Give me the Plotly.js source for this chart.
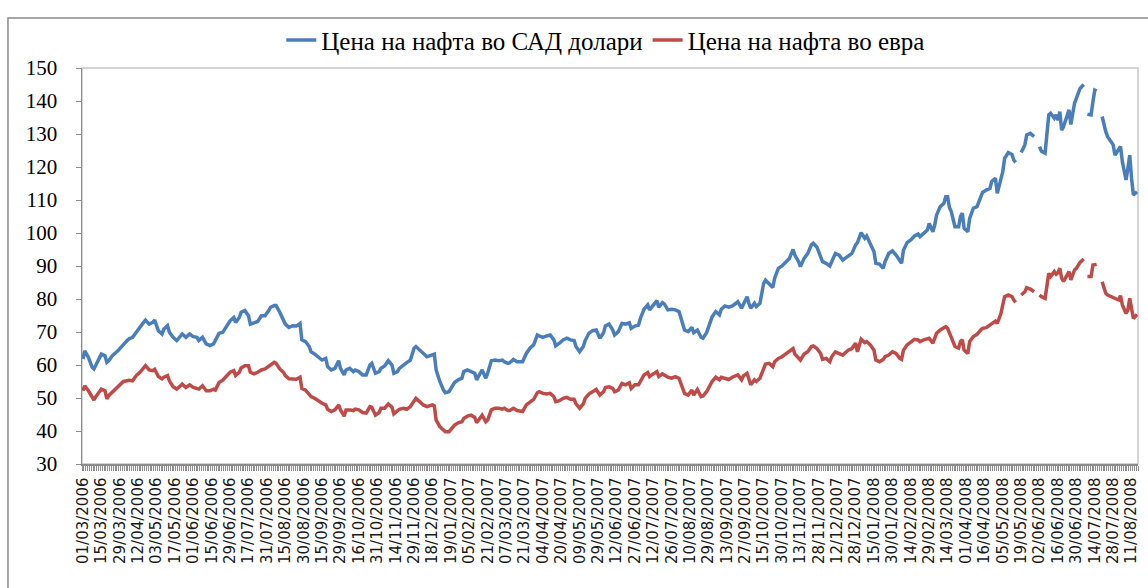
<!DOCTYPE html>
<html>
<head>
<meta charset="utf-8">
<script src="https://cdn.plot.ly/plotly-3.0.1.min.js"></script>
<style>
html,body{margin:0;padding:0;background:#ffffff;}
#chart{width:1148px;height:588px;}
</style>
</head>
<body>
<div id="chart"></div>
<script>
// Category labels shown on the x axis (every 10th trading day)
const tickLabels = ["01/03/2006","15/03/2006","29/03/2006","12/04/2006","03/05/2006","17/05/2006","01/06/2006","15/06/2006","29/06/2006","17/07/2006","31/07/2006","15/08/2006","30/08/2006","15/09/2006","29/09/2006","16/10/2006","31/10/2006","14/11/2006","29/11/2006","18/12/2006","19/01/2007","05/02/2007","21/02/2007","07/03/2007","21/03/2007","04/04/2007","20/04/2007","09/05/2007","29/05/2007","12/06/2007","27/06/2007","12/07/2007","26/07/2007","10/08/2007","29/08/2007","13/09/2007","27/09/2007","15/10/2007","30/10/2007","13/11/2007","28/11/2007","12/12/2007","28/12/2007","15/01/2008","30/01/2008","14/02/2008","29/02/2008","14/03/2008","01/04/2008","16/04/2008","05/05/2008","19/05/2008","02/06/2008","16/06/2008","30/06/2008","14/07/2008","28/07/2008","11/08/2008"];
const labelEvery = 10;
const categoryCount = 574;

// Trading-day index of each reading (0 = 01/03/2006)
const catIdx = [0,1,3,5,6,7,9,10,12,13,14,16,19,22,24,25,27,29,31,33,34,36,38,39,41,43,44,46,47,49,51,53,54,56,58,60,62,63,65,67,69,71,72,74,76,78,80,82,83,85,86,88,90,91,93,95,97,99,101,102,104,105,107,109,110,112,114,116,118,119,121,123,124,126,128,130,132,133,135,137,139,140,142,143,145,147,148,150,152,154,156,157,159,161,162,164,166,168,169,171,172,174,176,178,180,181,183,185,187,188,190,191,192,194,196,197,199,201,202,204,206,207,209,211,213,214,216,217,219,220,222,224,226,228,229,231,232,234,236,238,239,241,243,245,247,248,250,252,254,256,257,259,261,263,265,267,268,270,272,273,275,277,279,281,283,284,286,288,289,291,293,295,297,298,300,302,303,305,307,308,310,312,313,315,316,318,320,322,324,326,327,329,331,332,334,336,337,339,340,342,344,346,347,349,351,353,355,356,358,359,361,362,363,365,366,368,370,371,373,375,376,378,380,382,384,386,387,389,390,392,394,396,397,399,401,402,404,406,407,409,411,413,415,416,418,420,421,423,425,426,428,430,431,433,435,436,438,440,442,444,445,446,448,450,452,454,455,457,459,460,462,463,464,466,468,469,470,471,472,474,476,477,478,479,481,482,484,486,488,489,491,493,494,496,497,499,500,501,503,505,506,507,508,510,512,513,515,517,518,520,521,523,524,525,526,528,529,530,531,532,533,535,536,537,539,540,541,542,544,545,546,548,549,550,551,552,554,555,556,557,559,560,561,563,564,565,567,568,569,570,571,573];

// Oil price in US dollars
const usd = [61.8,64.3,62.3,59.3,58.8,59.8,62.3,63.3,62.8,60.8,61.3,62.8,64.3,66.4,67.4,67.9,68.4,69.9,71.2,72.9,73.6,72.4,72.9,73.6,70.4,69.4,70.9,71.9,69.9,68.4,67.4,68.9,69.4,68.4,69.4,68.6,68.4,67.4,68.4,66.4,65.9,66.4,67.4,69.6,69.9,71.9,73.4,74.4,72.9,74.4,76.0,76.5,74.9,72.4,72.9,73.2,74.9,74.9,76.5,77.5,78.0,78.0,76.0,73.9,72.4,71.4,71.9,71.8,72.6,67.6,67.1,65.6,64.0,63.3,62.5,61.5,62.0,59.5,58.5,59.0,61.3,59.0,57.0,58.5,59.0,58.0,58.5,58.0,57.0,57.0,60.0,60.5,57.5,58.0,59.0,59.7,61.3,60.0,57.5,58.0,59.0,60.0,60.7,61.5,65.1,65.6,64.5,63.5,62.5,62.7,63.0,63.3,58.5,55.0,52.4,51.6,51.9,54.0,54.7,55.5,56.0,58.0,58.5,58.0,57.5,55.5,57.5,58.5,56.0,57.5,61.3,61.5,61.3,61.5,61.0,60.5,60.7,61.7,61.0,61.0,61.0,63.5,65.1,66.1,69.1,68.8,68.4,68.8,69.1,67.6,65.8,66.6,67.6,68.1,67.6,67.4,65.6,64.0,65.6,67.4,69.6,70.4,70.6,68.1,69.8,71.8,72.4,70.6,69.1,70.1,72.6,72.4,72.8,71.1,71.8,72.1,74.1,76.9,78.2,76.7,78.2,79.5,77.5,78.9,78.5,76.7,76.9,76.7,76.2,72.4,70.6,70.1,71.4,69.8,70.6,68.4,68.1,69.8,71.6,74.6,76.2,75.2,76.9,77.9,77.5,77.9,78.7,79.2,77.2,78.5,80.7,78.7,77.2,78.7,77.7,78.7,84.7,85.7,84.7,83.5,86.3,89.3,90.0,91.3,92.3,95.0,93.3,91.3,89.8,92.3,93.8,96.4,96.9,95.7,92.8,91.3,90.8,90.0,91.3,93.8,93.3,91.8,92.6,93.0,93.8,96.4,97.1,100.1,98.4,99.1,96.9,94.3,90.8,90.6,89.3,91.3,93.8,94.6,93.3,91.6,90.8,94.8,97.1,97.9,99.1,99.7,98.9,99.9,100.9,102.9,100.4,102.4,105.4,108.0,109.0,111.0,111.0,107.7,106.5,101.9,101.9,105.0,106.0,101.4,100.4,104.4,107.5,108.0,110.5,112.3,113.0,113.5,115.6,116.6,112.0,116.1,118.6,122.6,124.4,123.8,122.1,121.4,null,124.4,126.7,129.7,130.2,129.2,null,126.2,124.8,124.2,131.7,135.8,136.3,134.8,135.8,134.2,136.8,131.2,132.2,135.8,137.3,132.9,139.3,140.8,142.0,143.8,145.0,null,136.0,135.8,139.8,143.3,143.0,null,135.3,132.7,130.7,129.2,127.2,126.7,123.6,125.7,126.2,121.6,116.1,119.6,123.6,116.6,111.5,112.5];

// Oil price in euro
const eur = [52.2,53.7,52.2,50.0,49.4,50.4,52.2,52.7,52.2,49.7,50.7,51.7,53.2,55.0,55.2,55.4,55.2,56.8,57.8,59.1,59.8,58.5,58.3,58.7,56.5,55.8,56.3,56.8,55.2,53.4,52.7,53.7,54.2,53.2,54.0,53.2,52.7,52.7,53.7,52.2,52.2,52.7,52.4,54.7,55.4,56.8,57.8,58.3,56.8,57.8,59.1,59.8,59.8,57.8,57.3,57.8,58.5,58.8,59.5,60.1,60.8,60.5,58.8,57.8,56.8,55.8,55.8,55.7,56.3,52.9,52.4,51.2,50.4,49.9,49.1,48.4,47.9,46.6,45.9,46.4,47.9,46.4,44.5,46.4,46.4,46.2,46.6,46.4,45.6,45.4,47.4,47.2,44.8,45.6,46.9,46.9,48.2,47.2,45.2,46.2,46.6,46.9,46.6,47.4,49.4,49.9,48.9,47.9,47.4,47.6,47.9,47.6,43.3,41.3,40.3,39.8,39.8,41.3,41.8,42.5,42.8,43.8,44.5,44.8,44.1,42.5,44.3,44.8,42.8,43.3,46.4,46.9,46.9,46.6,46.9,46.2,46.2,46.9,46.2,45.9,45.9,47.9,48.9,49.6,51.6,51.9,51.4,51.2,51.4,50.4,48.9,49.2,49.9,50.2,49.6,49.6,48.2,46.9,48.2,49.9,51.2,51.9,52.6,50.9,51.9,53.2,53.4,52.9,51.9,52.4,54.4,54.0,54.6,52.9,54.0,54.0,55.2,57.0,57.7,56.5,57.3,58.0,56.5,57.3,57.0,56.3,56.0,56.5,56.0,52.9,51.4,50.9,52.4,50.9,52.6,50.4,50.6,51.9,52.9,55.0,56.3,55.5,56.3,56.0,55.6,56.3,56.7,57.0,55.5,56.7,57.5,55.3,54.0,55.5,55.0,56.0,58.5,60.3,60.5,59.5,61.0,62.0,62.5,63.3,64.0,65.0,63.3,62.0,61.5,63.3,64.0,65.6,65.8,65.0,63.5,61.7,62.0,61.0,62.5,64.0,63.5,63.0,64.0,64.5,65.0,66.6,64.0,67.8,66.8,67.1,66.1,64.5,61.5,61.0,61.7,62.5,63.0,64.0,63.5,62.0,61.7,64.5,66.1,67.1,67.8,67.6,67.1,67.6,67.9,68.1,66.6,68.1,69.6,70.6,71.1,71.6,71.1,69.6,68.1,65.6,65.1,67.1,67.6,64.5,63.5,67.1,68.6,69.3,70.6,71.1,71.3,72.1,72.6,73.3,72.6,75.6,78.2,80.7,81.2,80.7,79.7,79.0,null,81.2,82.2,83.4,83.0,82.2,null,81.2,80.7,80.2,84.0,87.8,86.8,88.3,87.5,88.0,89.3,86.3,85.3,87.3,88.3,85.8,88.8,89.3,90.3,91.1,92.1,null,86.8,86.8,90.3,90.5,90.5,null,85.2,83.4,81.7,81.2,80.7,80.7,80.2,79.7,81.0,78.2,75.6,76.7,80.2,76.2,74.1,75.3];

const seriesNames = ["Цена на нафта во САД долари", "Цена на нафта во евра"];
const seriesColors = ["#4a7ebb", "#be4b48"];

const tickVals = tickLabels.map((_, k) => k * labelEvery);

const traces = [usd, eur].map((vals, k) => ({
  type: "scatter",
  mode: "lines",
  name: seriesNames[k],
  x: catIdx,
  y: vals,
  connectgaps: false,
  line: {color: seriesColors[k], width: 3.5},
  hoverinfo: "skip"
}));

const layout = {
  width: 1148,
  height: 588,
  margin: {l: 82, r: 10, t: 68, b: 124},
  paper_bgcolor: "#ffffff",
  plot_bgcolor: "#ffffff",
  showlegend: true,
  legend: {
    orientation: "h",
    x: 0.496, xanchor: "center",
    y: 1.07, yanchor: "middle",
    font: {family: "Liberation Serif", size: 25, color: "#000000"},
    bgcolor: "rgba(0,0,0,0)"
  },
  xaxis: {
    range: [-0.5, categoryCount - 0.5],
    tickmode: "array",
    tickvals: tickVals,
    ticktext: tickLabels,
    tickangle: -90,
    ticks: "outside",
    ticklen: 6,
    tickcolor: "rgba(0,0,0,0)",
    tickfont: {family: "DejaVu Sans", size: 15, color: "#1a1a1a"},
    showgrid: false,
    zeroline: false,
    showline: true,
    linecolor: "#8c8c8c",
    linewidth: 1.5,
    minor: {tickmode: "linear", tick0: -0.5, dtick: 1, ticks: "outside", ticklen: 5, tickcolor: "#8c8c8c", tickwidth: 1, showgrid: false}
  },
  yaxis: {
    range: [30, 150],
    tickmode: "linear",
    tick0: 30,
    dtick: 10,
    ticks: "outside",
    ticklen: 5,
    tickcolor: "#8c8c8c",
    ticklabelstandoff: 14,
    tickfont: {family: "Liberation Serif", size: 21, color: "#000000"},
    showgrid: false,
    zeroline: false,
    showline: true,
    linecolor: "#8c8c8c",
    linewidth: 1.5
  },
  shapes: [
    {type: "rect", xref: "paper", yref: "paper", x0: -0.0701, x1: 1.03, y0: -0.36, y1: 1.1263,
     line: {color: "#8a8a8a", width: 1.5}, fillcolor: "rgba(0,0,0,0)", layer: "below"},
    {type: "rect", xref: "paper", yref: "paper", x0: 0, x1: 1, y0: 0, y1: 1,
     line: {color: "#c6c6c6", width: 1.5}, fillcolor: "rgba(0,0,0,0)", layer: "below"}
  ]
};

Plotly.newPlot("chart", traces, layout, {displayModeBar: false, staticPlot: true});
</script>
</body>
</html>
